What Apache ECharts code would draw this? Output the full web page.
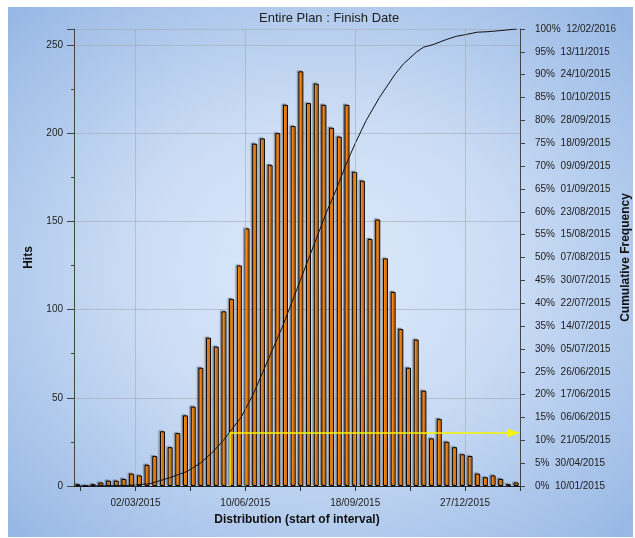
<!DOCTYPE html>
<html>
<head>
<meta charset="utf-8">
<title>Entire Plan : Finish Date</title>
<script src="https://cdn.jsdelivr.net/npm/echarts@6/dist/echarts.min.js"></script>
<style>
* { margin: 0; padding: 0; }
body { background: #fff; width: 635px; height: 538px; position: relative; overflow: hidden; }
#backdrop {
    position: absolute; left: 8px; top: 7px; width: 625px; height: 530px;
    background: radial-gradient(ellipse at 50% 50%, #dfeafa 0%, #c9dbf4 45%, #96b7e4 100%);
}
#chart-container { position: absolute; left: 0; top: 0; width: 635px; height: 538px; }
</style>
</head>
<body>
<div id="backdrop"></div>
<div id="chart-container"></div>
<script>
// x values are days counted from 05/01/2015, one bin per week
const binDays = 7;
const hits = [1, 0, 1, 2, 3, 3, 4, 7, 6, 12, 17, 31, 22, 30, 40, 45, 67, 84, 79, 99,
    106, 125, 146, 194, 197, 182, 200, 216, 204, 235, 217, 228, 216, 203, 198, 216, 178, 173, 140, 151,
    129, 110, 89, 67, 83, 54, 27, 38, 25, 22, 18, 17, 7, 5, 6, 4, 1, 2];

// cumulative frequency curve (day, percent)
const cumDays = [5, 50, 69, 87, 103, 115, 127, 136, 152, 163, 172, 181, 190, 198, 206, 214, 222, 230,
    239, 247, 256, 266, 278, 292, 300, 312, 318, 327, 339, 348, 357, 367, 376, 386, 403];
const cumPct = [0, 0.1, 0.5, 1.8, 3.2, 5, 7.6, 10, 15, 20, 25, 30, 35, 40, 45, 50, 55, 60,
    65, 70, 75, 80, 85, 90, 92.4, 95, 96, 96.6, 97.7, 98.4, 98.8, 99.3, 99.4, 99.6, 100];

// axis ticks / labels
const xTickDays = [6, 56, 106, 156, 206, 256, 306, 356, 406];
const xLabelDays = [56, 156, 256, 356];
const xLabels = ['02/03/2015', '10/06/2015', '18/09/2015', '27/12/2015'];
const rightLabels = ['0%  10/01/2015', '5%  30/04/2015', '10%  21/05/2015', '15%  06/06/2015',
    '20%  17/06/2015', '25%  26/06/2015', '30%  05/07/2015', '35%  14/07/2015', '40%  22/07/2015',
    '45%  30/07/2015', '50%  07/08/2015', '55%  15/08/2015', '60%  23/08/2015', '65%  01/09/2015',
    '70%  09/09/2015', '75%  18/09/2015', '80%  28/09/2015', '85%  10/10/2015', '90%  24/10/2015',
    '95%  13/11/2015', '100%  12/02/2016'];

// yellow marker (day, percent) and where the arrow head sits
const markerDay = 142;
const markerPct = 11.6;
const arrowDay = 400;

const font = 'Liberation Sans, Arial, sans-serif';
const gridColor = 'rgba(165,170,180,0.6)';

const dom = document.getElementById('chart-container');
const myChart = echarts.init(dom, null, { renderer: 'canvas' });

let option = {
    animation: false,
    textStyle: { fontFamily: font },
    title: {
        text: 'Entire Plan : Finish Date',
        left: 254,
        top: 7,
        textStyle: { fontSize: 13, fontWeight: 'normal', color: '#222', fontFamily: font }
    },
    grid: { left: 74, right: 115, top: 29, bottom: 52, outerBoundsMode: 'none', containLabel: false },
    xAxis: {
        type: 'value',
        min: 0,
        max: 406,
        name: 'Distribution (start of interval)',
        nameLocation: 'middle',
        nameGap: 28,
        nameTextStyle: { fontSize: 12, fontWeight: 'bold', color: '#111' },
        axisLine: { lineStyle: { color: '#222' } },
        axisTick: { customValues: xTickDays, length: 5, lineStyle: { color: '#333' } },
        axisLabel: {
            customValues: xLabelDays,
            formatter: v => xLabels[xLabelDays.indexOf(v)],
            fontSize: 10,
            color: '#222',
            margin: 12
        },
        splitLine: { show: false }
    },
    yAxis: [
        {
            type: 'value',
            position: 'left',
            min: 0,
            max: 259,
            interval: 50,
            name: 'Hits',
            nameLocation: 'middle',
            nameGap: 39,
            nameRotate: 90,
            nameTextStyle: { fontSize: 12, fontWeight: 'bold', color: '#111' },
            axisLine: { show: true, lineStyle: { color: '#444' } },
            axisTick: { show: true, length: 7, lineStyle: { color: '#444' } },
            minorTick: { show: true, splitNumber: 2, length: 3, lineStyle: { color: '#444' } },
            axisLabel: { fontSize: 10, color: '#222', margin: 11, showMaxLabel: false },
            splitLine: { show: true, lineStyle: { color: gridColor } }
        },
        {
            type: 'value',
            position: 'right',
            min: 0,
            max: 100,
            interval: 5,
            name: 'Cumulative Frequency',
            nameLocation: 'middle',
            nameGap: 100,
            nameMoveOverlap: false,
            nameRotate: 90,
            nameTextStyle: { fontSize: 12, fontWeight: 'bold', color: '#111' },
            axisLine: { show: true, lineStyle: { color: '#444' } },
            axisTick: { show: true, length: 5, lineStyle: { color: '#444' } },
            axisLabel: {
                fontSize: 10,
                color: '#222',
                margin: 15,
                formatter: v => rightLabels[Math.round(v / 5)]
            },
            splitLine: { show: false }
        }
    ],
    series: [
        {
            // vertical grid lines at the labelled dates
            type: 'line',
            data: [],
            z: 1,
            markLine: {
                silent: true,
                symbol: ['none', 'none'],
                label: { show: false },
                lineStyle: { color: gridColor, type: 'solid', width: 1 },
                data: xLabelDays.map(d => ({ xAxis: d }))
            }
        },
        {
            type: 'bar',
            z: 3,
            barWidth: 5,
            data: hits.map((h, i) => [i * binDays + binDays / 2, h]),
            itemStyle: {
                color: '#ff8a14',
                borderColor: '#000',
                borderWidth: 1,
                shadowColor: 'rgba(70,70,70,0.5)',
                shadowBlur: 1,
                shadowOffsetX: -1.5,
                shadowOffsetY: -1
            }
        },
        {
            type: 'line',
            yAxisIndex: 1,
            z: 4,
            symbol: 'none',
            data: cumDays.map((d, i) => [d, cumPct[i]]),
            lineStyle: { color: '#111', width: 1 }
        },
        {
            type: 'line',
            yAxisIndex: 1,
            z: 5,
            symbol: 'none',
            data: [
                [markerDay, 0],
                [markerDay, markerPct],
                { value: [arrowDay, markerPct], symbol: 'triangle', symbolSize: [9, 13], symbolRotate: -90 }
            ],
            lineStyle: { color: '#f5f500', width: 1.5 },
            itemStyle: { color: '#f5f500' }
        }
    ]
};

myChart.setOption(option);
</script>
</body>
</html>
